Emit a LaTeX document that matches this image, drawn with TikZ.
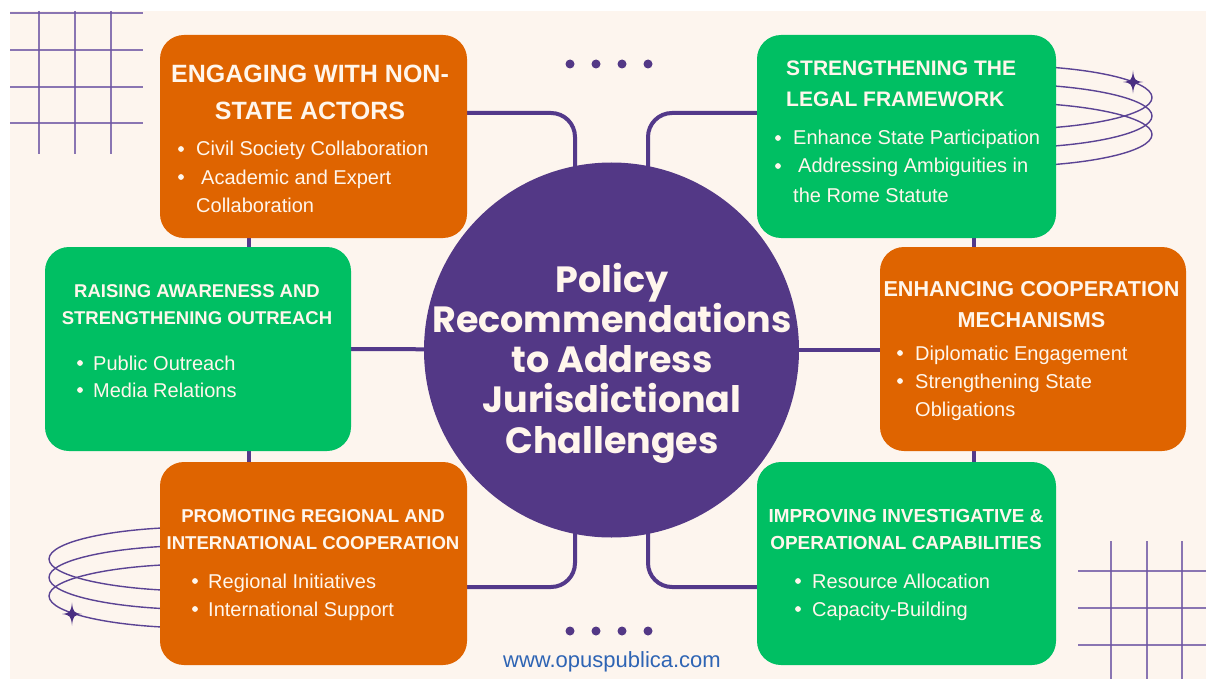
\documentclass[tikz,border=0pt]{standalone}
\usepackage{fontspec}
\setmainfont{Liberation Sans}
\newfontfamily\hubfont{Poppins}
\definecolor{paper}{HTML}{FDF5EE}
\definecolor{boxorange}{HTML}{DF6400}
\definecolor{boxgreen}{HTML}{00BF63}
\definecolor{hubpurple}{HTML}{533886}
\definecolor{linkpurple}{HTML}{53398A}
\definecolor{gridpurple}{HTML}{6E55A4}
\definecolor{ringpurple}{HTML}{5B4394}
\definecolor{starpurple}{HTML}{4A2E82}
\definecolor{cream}{HTML}{FFF6EC}
\definecolor{urlblue}{HTML}{2E64B4}

\pgfdeclarelayer{paperlayer}
\pgfdeclarelayer{linklayer}
\pgfsetlayers{paperlayer,linklayer,main}

% centred and left-aligned text blocks; the baseline is that of the first line
\newcommand\mktitle[3]{\parbox[t]{310pt}{\centering\fontsize{#1}{#2}\selectfont\bfseries #3}}
\newcommand\mkleft[3]{\parbox[t]{300pt}{\raggedright\fontsize{#1}{#2}\selectfont #3}}

\begin{document}
\begin{tikzpicture}[x=1pt,y=-1pt,
  box/.style={rounded corners=24pt, inner sep=0pt, draw=none},
  conn/.style={draw=linkpurple, line width=4pt},
  gridline/.style={draw=gridpurple, line width=1.5pt, opacity=0.8},
  ring/.style={draw=ringpurple, line width=1.4pt},
  ttl/.style={anchor=base, inner sep=0pt, text=cream},
  ltitle/.style={anchor=base west, inner sep=0pt, text=cream},
  itemtext/.style={anchor=base west, inner sep=0pt, text=cream},
  dot/.style={fill=cream},
  sparkle/.style={fill=starpurple},
  trail/.style={fill=hubpurple}
]
\useasboundingbox (0,0) rectangle (1206,679);

% ---------- paper, grids, rings, stars ----------
\begin{pgfonlayer}{paperlayer}
  \fill[white] (0,0) rectangle (1206,679);
  \fill[paper] (10,11) rectangle (1206,679);
  % grid, upper left
  \foreach \y in {13,50,87,123} \draw[gridline] (10,\y) -- (143,\y);
  \foreach \x in {39,75,111} \draw[gridline] (\x,11) -- (\x,154);
  % grid, lower right
  \foreach \y in {571,608,645} \draw[gridline] (1078,\y) -- (1206,\y);
  \foreach \x in {1111,1147,1182} \draw[gridline] (\x,541) -- (\x,679);
  % orbit rings
  \foreach \cy in {97.5,116,134.5}
    \draw[ring] (1002,\cy) ellipse [x radius=150pt, y radius=32pt];
  \foreach \cy in {559,577.5,596}
    \draw[ring] (199,\cy) ellipse [x radius=150pt, y radius=32pt];
  % four-pointed stars
  \foreach \sx/\sy in {1133/82, 72/614}
    \fill[sparkle, shift={(\sx,\sy)}]
      (0,-11.5) .. controls (1,-2) and (2,-1) .. (10,0)
      .. controls (2,1) and (1,2) .. (0,11.5)
      .. controls (-1,2) and (-2,1) .. (-10,0)
      .. controls (-2,-1) and (-1,-2) .. cycle;
\end{pgfonlayer}

% ---------- hub and boxes ----------
\node[circle, fill=hubpurple, minimum size=375pt, inner sep=0pt] (hub) at (611.5,350) {};

\node[box, fill=boxorange, minimum width=307pt, minimum height=203pt] (b1) at (313.5,136.5) {};
\node[box, fill=boxgreen,  minimum width=299pt, minimum height=203pt] (b2) at (906.5,136.5) {};
\node[box, fill=boxgreen,  minimum width=306pt, minimum height=204pt] (b3) at (198,349) {};
\node[box, fill=boxorange, minimum width=306pt, minimum height=204pt] (b4) at (1033,349) {};
\node[box, fill=boxorange, minimum width=307pt, minimum height=203pt] (b5) at (313.5,563.5) {};
\node[box, fill=boxgreen,  minimum width=299pt, minimum height=203pt] (b6) at (906.5,563.5) {};

% ---------- connectors ----------
\coordinate (jtl) at (575,113);
\coordinate (jtr) at (648,113);
\coordinate (jbl) at (575,587);
\coordinate (jbr) at (648,587);
\coordinate (vl) at (249,0);
\coordinate (vr) at (974,0);
\begin{pgfonlayer}{linklayer}
  \draw[conn, rounded corners=24pt] (b1.east |- jtl) -- (jtl) -- (jtl |- hub.center);
  \draw[conn, rounded corners=24pt] (b2.west |- jtr) -- (jtr) -- (jtr |- hub.center);
  \draw[conn, rounded corners=24pt] (b5.east |- jbl) -- (jbl) -- (jbl |- hub.center);
  \draw[conn, rounded corners=24pt] (b6.west |- jbr) -- (jbr) -- (jbr |- hub.center);
  \draw[conn] (b3.east) -- (hub.center);
  \draw[conn] (hub.center) -- (hub.center -| b4.west);
  \draw[conn] (b1.south -| vl) -- (b5.north -| vl);
  \draw[conn] (b2.south -| vr) -- (b6.north -| vr);
\end{pgfonlayer}

% ---------- hub text ----------
\node[anchor=base, inner sep=0pt, text=cream] (hubtext) at (612,292)
  {\parbox[t]{380pt}{\centering\hubfont\bfseries\fontsize{36.5}{40.25}\selectfont
   Policy\\Recommendations\\to Address\\Jurisdictional\\Challenges}};

% ---------- box 1 ----------
\node[ttl] (t1) at (310,83) {\mktitle{25}{37}{ENGAGING WITH NON-\\STATE ACTORS}};
\fill[dot] (181,149) circle (2.9pt);
\fill[dot] (181,177) circle (2.9pt);
\node[itemtext] (i11) at (196,156) {\mkleft{20}{28}{Civil Society Collaboration}};
\node[itemtext] (i12) at (201,184) {\mkleft{20}{28}{Academic and Expert}};
\node[itemtext] (i13) at (196,212) {\mkleft{20}{28}{Collaboration}};

% ---------- box 2 ----------
\node[ltitle] (t2) at (786,76) {\mkleft{21}{31}{\bfseries STRENGTHENING THE\\LEGAL FRAMEWORK}};
\fill[dot] (778,138) circle (2.9pt);
\fill[dot] (778,166) circle (2.9pt);
\node[itemtext] (i21) at (793,145) {\mkleft{20}{28}{Enhance State Participation}};
\node[itemtext] (i22) at (798,173) {\mkleft{20}{28}{Addressing Ambiguities in}};
\node[itemtext] (i23) at (793,202) {\mkleft{20}{28}{the Rome Statute}};

% ---------- box 3 ----------
\node[ttl] (t3) at (197,297) {\mktitle{18.5}{27}{RAISING AWARENESS AND\\STRENGTHENING OUTREACH}};
\fill[dot] (80,363) circle (2.9pt);
\fill[dot] (80,390) circle (2.9pt);
\node[itemtext] (i31) at (93,370) {\mkleft{20}{27}{Public Outreach\\Media Relations}};

% ---------- box 4 ----------
\node[ttl] (t4) at (1031.5,296) {\mktitle{21.6}{31}{ENHANCING COOPERATION\\MECHANISMS}};
\fill[dot] (900,353) circle (2.9pt);
\fill[dot] (900,381) circle (2.9pt);
\node[itemtext] (i41) at (915,360) {\mkleft{20}{28}{Diplomatic Engagement}};
\node[itemtext] (i42) at (915,388) {\mkleft{20}{28}{Strengthening State\\Obligations}};

% ---------- box 5 ----------
\node[ttl] (t5) at (313,522) {\mktitle{18.6}{27}{PROMOTING REGIONAL AND\\INTERNATIONAL COOPERATION}};
\fill[dot] (195,581) circle (2.9pt);
\fill[dot] (195,609) circle (2.9pt);
\node[itemtext] (i51) at (208,588) {\mkleft{20}{28}{Regional Initiatives\\International Support}};

% ---------- box 6 ----------
\node[ttl] (t6) at (906,522) {\mktitle{18.9}{27}{IMPROVING INVESTIGATIVE \&\\OPERATIONAL CAPABILITIES}};
\fill[dot] (798,581) circle (2.9pt);
\fill[dot] (798,609) circle (2.9pt);
\node[itemtext] (i61) at (812,588) {\mkleft{20}{28}{Resource Allocation\\Capacity-Building}};

% ---------- dot rows and address ----------
\foreach \x in {570,596,622,648} {
  \fill[trail] (\x,64) circle (4.5pt);
  \fill[trail] (\x,631) circle (4.5pt);
}
\node[anchor=base, inner sep=0pt, text=urlblue, font=\fontsize{22}{26}\selectfont] (url) at (612,667) {www.opuspublica.com};
\end{tikzpicture}
\end{document}
